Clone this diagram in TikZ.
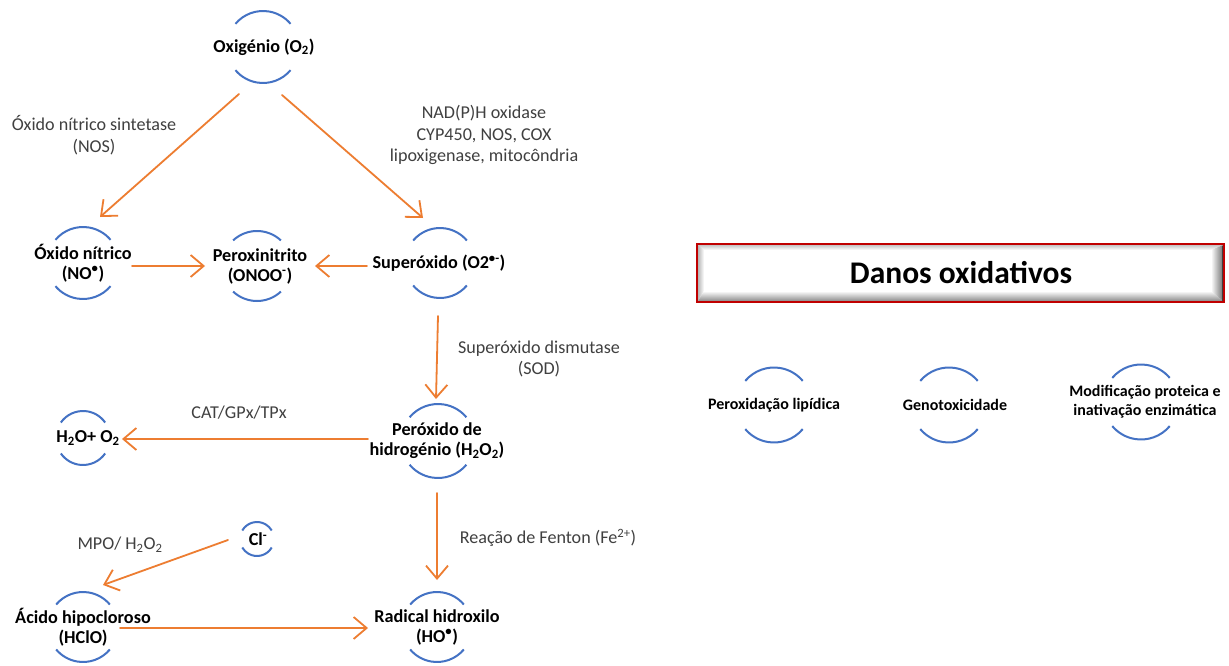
\documentclass[tikz,border=0pt]{standalone}
\usepackage{fontspec}
\setmainfont{Carlito}
\usetikzlibrary{arrows.meta}

\definecolor{ringblue}{RGB}{68,114,196}
\definecolor{floworange}{RGB}{237,125,49}
\definecolor{notegray}{RGB}{64,64,64}
\definecolor{boxred}{RGB}{192,0,0}

% two facing arcs around a species: [x offset]{node}{radius}{half span in degrees}
\newcommand{\ringarcs}[4][0]{%
  \draw[ringline] ([xshift=#1pt]#2.center) ++(90-#4:#3) arc[start angle=90-#4, end angle=90+#4, radius=#3];
  \draw[ringline] ([xshift=#1pt]#2.center) ++(270-#4:#3) arc[start angle=270-#4, end angle=270+#4, radius=#3];
}

\tikzset{
  ringline/.style={draw=ringblue, line width=2pt},
  species/.style={font=\bfseries\fontsize{18.2}{20}\selectfont, align=center, text=black, inner sep=0pt},
  damage/.style={font=\bfseries\fontsize{16}{19}\selectfont, align=center, text=black, inner sep=0pt},
  note/.style={font=\fontsize{18.1}{21.5}\selectfont, align=center, text=notegray, inner sep=0pt},
  flowarrow/.style={draw=floworange, line width=1.8pt, line cap=round,
    -{Straight Barb[length=13pt, width=22pt, line width=1.8pt]}},
}

\begin{document}
\begin{tikzpicture}[x=1pt, y=-1pt]
\useasboundingbox (0,0) rectangle (1229,666);
\fill[white] (0,0) rectangle (1229,666);

% species
\node[species] (o2)   at (264,47)  {Oxigénio (O\textsubscript{2})};
\node[species] (no)   at (83,263)  {Óxido nítrico\\(NO\textsuperscript{•})};
\node[species] (onoo) at (260,266) {Peroxinitrito\\(ONOO\textsuperscript{-})};
\node[species] (sup)  at (439,263) {Superóxido (O2\textsuperscript{•-})};
\node[species] (h2o)  at (88,438)  {H\textsubscript{2}O+ O\textsubscript{2}};
\node[species] (h2o2) at (437,441) {Peróxido de\\hidrogénio (H\textsubscript{2}O\textsubscript{2})};
\node[species] (cl)   at (258,539) {Cl\textsuperscript{-}};
\node[species] (hclo) at (83,627)  {Ácido hipocloroso\\(HClO)};
\node[species] (ho)   at (437,627) {Radical hidroxilo\\(HO\textsuperscript{•})};

\ringarcs[-1]{o2}{36}{50}
\ringarcs[0]{no}{36}{50}
\ringarcs[-3]{onoo}{35}{43}
\ringarcs[1]{sup}{35}{50}
\ringarcs[-5]{h2o}{27}{55}
\ringarcs[1]{h2o2}{37}{50}
\ringarcs[-1]{cl}{17}{60}
\ringarcs{hclo}{35}{50}
\ringarcs{ho}{35}{50}

% enzymes and conditions
\node[note] (nos)    at (94,135)  {Óxido nítrico sintetase\\(NOS)};
\node[note] (nadph)  at (484,135) {NAD(P)H oxidase\\CYP450, NOS, COX\\lipoxigenase, mitocôndria};
\node[note] (sod)    at (539,359) {Superóxido dismutase\\(SOD)};
\node[note] (cat)    at (239,413) {CAT/GPx/TPx};
\node[note] (mpo)    at (120,545) {MPO/ H\textsubscript{2}O\textsubscript{2}};
\node[note] (fenton) at (548,538) {Reação de Fenton (Fe\textsuperscript{2+})};

% reactions
\draw[flowarrow] ([shift={(-25,47)}]o2.center) -- ([shift={(17,-46)}]no.center);
\draw[flowarrow] ([shift={(18,48)}]o2.center) -- ([shift={(-16,-45)}]sup.center);
\draw[flowarrow] ([shift={(49,3)}]no.center) -- ([shift={(-55,0)}]onoo.center);
\draw[flowarrow] ([shift={(-72,3)}]sup.center) -- ([shift={(55,0)}]onoo.center);
\draw[flowarrow] ([shift={(-1,53)}]sup.center) -- ([shift={(-1,-42)}]h2o2.center);
\draw[flowarrow] ([shift={(-69,-2)}]h2o2.center) -- ([shift={(34,1)}]h2o.center);
\draw[flowarrow] ([shift={(0,52)}]h2o2.center) -- ([shift={(0,-47)}]ho.center);
\draw[flowarrow] ([shift={(-30,1)}]cl.center) -- ([shift={(20,-42)}]hclo.center);
\draw[flowarrow] ([shift={(37,1)}]hclo.center) -- ([shift={(-69,1)}]ho.center);

% bevelled title box
\fill[white] (697,244) rectangle (1224,302);
\shade[top color=black!22, bottom color=white] (698,245) -- (1223,245) -- (1211,250) -- (704,250) -- cycle;
\shade[left color=black!28, right color=white] (698,245) -- (704,250) -- (704,291) -- (698,301) -- cycle;
\shade[top color=white, bottom color=black!45] (698,301) -- (704,291) -- (1211,291) -- (1223,301) -- cycle;
\shade[left color=white, right color=black!55] (1211,250) -- (1223,245) -- (1223,301) -- (1211,291) -- cycle;
\draw[black!75, line width=1pt] (1222.5,246) -- (1222.5,301);
\draw[boxred, line width=1.5pt] (697,244) rectangle (1224,302);
\node[font=\bfseries\fontsize{31.5}{35}\selectfont, text=black, inner sep=0pt] (danos) at (961,273) {Danos oxidativos};

% oxidative damage
\node[damage] (lip)  at (774,405)  {Peroxidação lipídica};
\node[damage] (geno) at (955,405)  {Genotoxicidade};
\node[damage] (prot) at (1145,402) {Modificação proteica e\\inativação enzimática};
\ringarcs{lip}{37.5}{50}
\ringarcs[-6]{geno}{37.5}{50}
\ringarcs[-4]{prot}{37.5}{50}
\end{tikzpicture}
\end{document}
